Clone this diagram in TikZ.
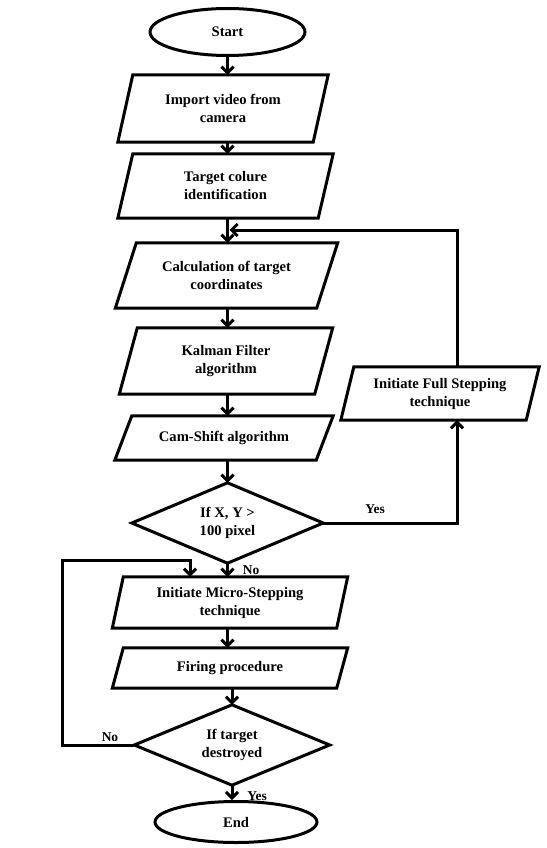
\documentclass[tikz,border=0pt]{standalone}
\usepackage{fontspec}
\setmainfont{Liberation Serif}
\usetikzlibrary{arrows.meta,shapes.geometric}
\newcommand{\drawpara}[2]{\draw[lw, line join=miter] ([xshift=#2]#1.north west) -- ([xshift=#2]#1.north east) -- ([xshift=-#2]#1.south east) -- ([xshift=-#2]#1.south west) -- cycle;}
\newcommand{\drawdia}[1]{\draw[lw, line join=miter] (#1.north) -- (#1.east) -- (#1.south) -- (#1.west) -- cycle;}
\begin{document}
\begin{tikzpicture}[x=1pt,y=-1pt,
  lw/.style={line width=3pt},
  txt/.style={font=\bfseries\fontsize{14.6}{18}\selectfont, align=center, inner sep=0pt},
  term/.style={txt, draw, lw, ellipse},
  blk/.style={txt, rectangle},
  arr/.style={lw, -{Straight Barb[length=6pt,width=12pt]}},
  lbl/.style={font=\bfseries\fontsize{13.5}{15}\selectfont, inner sep=0pt}]
\useasboundingbox (0,0) rectangle (546,848);

\node[term, minimum width=155, minimum height=47] (start) at (227.5,32) {Start};
\node[blk, minimum width=195, minimum height=67] (imp) at (223,108.5) {Import video from\\camera};
\node[blk, minimum width=200, minimum height=64] (tgt) at (225.5,186) {Target colure\\identification};
\node[blk, minimum width=201, minimum height=65] (calc) at (226.5,275.5) {Calculation of target\\coordinates};
\node[blk, minimum width=195, minimum height=66] (kal) at (226,361) {Kalman Filter\\algorithm};
\node[blk, minimum width=201, minimum height=44] (cam) at (224,438) {Cam-Shift algorithm};
\node[blk, minimum width=185, minimum height=53] (full) at (440,393.5) {Initiate Full Stepping\\technique};
\node[blk, minimum width=191, minimum height=80] (d1) at (227.5,523) {If X, Y >\\100 pixel};
\node[blk, minimum width=224, minimum height=51] (micro) at (230,602.5) {Initiate Micro-Stepping\\technique};
\node[blk, minimum width=224, minimum height=40] (fire) at (230,668) {Firing procedure};
\node[blk, minimum width=195, minimum height=80] (d2) at (232,745) {If target\\destroyed};
\node[term, minimum width=162, minimum height=41] (end) at (236,822) {End};

\drawpara{imp}{7.5}
\drawpara{tgt}{7.5}
\drawpara{calc}{10.5}
\drawpara{kal}{9}
\drawpara{cam}{8.5}
\drawpara{full}{6.5}
\drawpara{micro}{5.5}
\drawpara{fire}{5.5}
\drawdia{d1}
\drawdia{d2}

\coordinate (col) at (227.5,0);
\coordinate (fbx) at (457,230);
\coordinate (lp) at (62,560);
\coordinate (lpx) at (190,560);

\draw[arr] (start.south) -- (start.south |- imp.north);
\draw[arr] (col |- imp.south) -- (col |- tgt.north);
\draw[arr] (col |- tgt.south) -- (col |- calc.north);
\draw[arr] (fbx |- full.north) -- (fbx) -- ([xshift=2]col |- fbx);
\draw[arr] (col |- calc.south) -- (col |- kal.north);
\draw[arr] (col |- kal.south) -- (col |- cam.north);
\draw[arr] (col |- cam.south) -- (d1.north);
\draw[arr] (d1.east) -| (fbx |- full.south);
\draw[arr] (d1.south) -- (d1.south |- micro.north);
\draw[arr] (d1.south |- micro.south) -- (d1.south |- fire.north);
\draw[arr] (fire.south -| d2.north) -- (d2.north);
\draw[arr] (d2.west) -| (lp) -- (lpx) -- (lpx |- micro.north);
\draw[arr] (d2.south) -- (d2.south |- end.north);

\node[lbl] (yes1) at (375,509) {Yes};
\node[lbl] (no1) at (251,570) {No};
\node[lbl] (no2) at (110,737) {No};
\node[lbl] (yes2) at (257,796) {Yes};
\end{tikzpicture}
\end{document}
